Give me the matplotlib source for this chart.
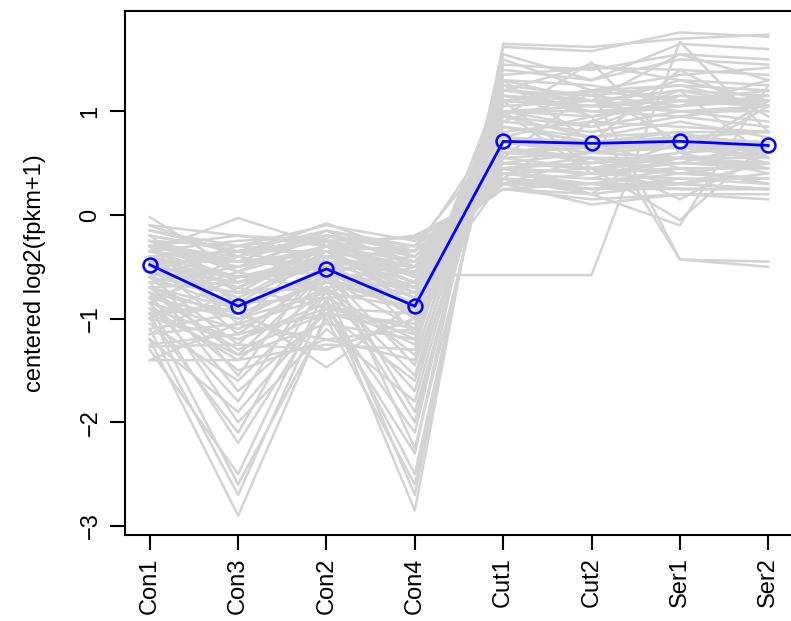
import numpy as np
import matplotlib as mp
mp.use('Agg')
import matplotlib.pyplot as plt

plt.rcParams['font.family'] = ['Liberation Sans', 'DejaVu Sans']

samples = ['Con1', 'Con3', 'Con2', 'Con4', 'Cut1', 'Cut2', 'Ser1', 'Ser2']

# one row per gene, centered log2(fpkm+1)
genes = [
    [-1.20, -2.90, -0.95, -2.30, 1.62, 1.58, 1.76, 1.72],
    [-1.10, -2.70, -0.80, -2.85, 1.65, 1.62, 1.70, 1.74],
    [-0.95, -2.60, -1.00, -2.60, 1.45, 1.40, 1.55, 1.50],
    [-1.30, -2.50, -0.70, -2.70, 1.55, 1.30, 1.65, 1.60],
    [-0.90, -2.20, -0.85, -2.50, 1.35, 1.42, 1.40, 1.35],
    [-1.00, -2.10, -0.60, -2.00, 1.30, 1.25, 1.10, 1.20],
    [-0.75, -2.00, -1.10, -1.80, 1.20, 1.45, 1.30, 1.25],
    [-1.20, -1.90, -0.90, -2.10, 1.50, 1.20, 1.35, 1.42],
    [-0.85, -1.80, -0.50, -1.90, 1.10, 1.20, 1.25, 1.05],
    [-0.65, -1.70, -0.95, -1.60, 1.00, 1.05, 1.30, 1.10],
    [-1.05, -1.60, -0.75, -1.70, 1.25, 0.95, 1.05, 1.30],
    [-0.55, -1.55, -0.40, -2.25, 1.15, 1.00, 1.05, 1.15],
    [-1.40, -1.40, -1.25, -1.30, 1.40, 1.30, 1.50, 1.45],
    [-0.80, -1.50, -1.20, -1.40, 1.30, 1.10, 1.55, 1.30],
    [-0.70, -1.35, -0.55, -1.45, 1.00, 0.85, 1.15, 1.05],
    [-0.60, -0.90, -0.50, -0.85, 0.75, 0.70, 0.80, 0.60],
    [-0.40, -0.70, -0.30, -0.60, 0.55, 0.45, 0.60, 0.40],
    [-0.30, -0.50, -0.20, -0.45, 0.40, 0.35, 0.30, 0.40],
    [-0.25, -0.45, -0.15, -0.30, 0.35, 0.30, 0.25, 0.25],
    [-0.50, -0.80, -0.45, -0.75, 0.60, 0.65, 0.70, 0.55],
    [-0.70, -1.00, -0.60, -1.10, 0.90, 0.80, 0.95, 0.85],
    [-0.35, -0.60, -0.40, -0.55, 0.45, 0.50, 0.55, 0.50],
    [-0.90, -1.20, -0.85, -1.25, 1.10, 1.05, 1.00, 1.05],
    [-0.20, -0.35, -0.25, -0.40, 0.30, 0.25, 0.35, 0.30],
    [-0.45, -1.15, -0.55, -0.95, 0.85, 0.70, 0.75, 0.80],
    [-0.65, -0.75, -0.70, -0.65, 0.70, 0.60, 0.75, 0.70],
    [-0.30, -0.85, -0.35, -0.70, 0.50, 0.60, 0.55, 0.55],
    [-0.55, -0.65, -0.30, -0.90, 0.65, 0.55, 0.50, 0.70],
    [-0.80, -0.55, -0.75, -0.50, 0.60, 0.70, 0.65, 0.65],
    [-0.15, -0.30, -0.10, -0.25, 0.30, 0.10, 0.20, 0.20],
    [-0.35, -0.25, -0.20, -0.35, 0.35, 0.25, 0.30, 0.25],
    [-0.60, -1.25, -0.45, -1.00, 0.95, 0.75, 0.80, 0.80],
    [-0.25, -0.55, -0.15, -0.50, 0.40, 0.30, 0.45, 0.30],
    [-0.40, -0.35, -0.35, -0.30, 0.30, 0.40, 0.35, 0.35],
    [-0.75, -0.95, -0.65, -0.90, 0.85, 0.75, 0.90, 0.75],
    [-0.50, -0.60, -0.55, -0.70, 0.55, 0.60, 0.65, 0.55],
    [-0.85, -0.40, -0.60, -0.55, 0.65, 0.50, 0.60, 0.65],
    [-0.20, -0.75, -0.30, -0.65, 0.45, 0.55, 0.40, 0.50],
    [-0.45, -0.45, -0.50, -0.40, 0.45, 0.40, 0.50, 0.45],
    [-0.95, -0.85, -0.80, -0.75, 0.80, 0.90, 0.85, 0.80],
    [-0.30, -1.05, -0.25, -1.15, 0.70, 0.65, 0.75, 0.65],
    [-0.65, -0.50, -0.35, -0.80, 0.60, 0.55, 0.55, 0.60],
    [-0.55, -0.30, -0.40, -0.35, 0.40, 0.45, 0.40, 0.35],
    [-0.10, -0.40, -0.20, -0.35, 0.25, 0.30, 0.25, 0.25],
    [-0.70, -0.65, -0.45, -1.00, 0.75, 0.65, 0.70, 0.70],
    [-0.40, -0.95, -0.65, -0.85, 0.70, 0.70, 0.75, 0.70],
    [-1.15, -0.70, -0.90, -0.95, 0.95, 0.85, 1.00, 0.90],
    [-0.30, -0.20, -0.30, -0.20, 0.25, 0.20, 0.30, 0.25],
    [-0.85, -1.10, -0.70, -1.35, 1.00, 1.00, 0.95, 1.05],
    [-0.50, -0.40, -0.25, -0.60, 0.45, 0.40, 0.45, 0.45],
    [-0.60, -0.35, -0.55, -0.45, 0.50, 0.45, 0.55, 0.45],
    [-0.25, -0.65, -0.50, -0.55, 0.50, 0.45, 0.50, 0.50],
    [-0.75, -1.30, -0.95, -1.15, 1.05, 1.10, 1.00, 1.00],
    [-0.35, -0.45, -0.45, -0.50, 0.45, 0.40, 0.45, 0.45],
    [-1.00, -0.60, -0.40, -0.70, 0.70, 0.65, 0.65, 0.70],
    [-1.15, -1.05, -1.20, -1.10, 1.15, 1.10, 1.20, 1.05],
    [-0.95, -1.35, -1.05, -1.20, 1.25, 1.15, 1.05, 1.10],
    [-1.25, -1.15, -0.95, -1.05, 1.10, 1.20, 1.10, 1.10],
    [-1.10, -0.95, -1.30, -1.00, 1.15, 1.05, 1.10, 1.05],
    [-0.90, -1.40, -0.70, -1.55, 1.20, 1.10, 1.20, 1.15],
    [-0.15, -0.35, -0.23, -0.58, -0.58, -0.58, 1.67, 0.80],
    [-0.20, -0.35, -0.15, -0.35, 0.90, 1.20, -0.43, -0.45],
    [-0.25, -0.30, -0.20, -0.30, 0.75, 0.95, -0.43, -0.50],
    [-1.00, -1.20, -0.90, -1.10, 0.95, 1.47, 0.60, 1.10],
    [-0.80, -1.00, -0.75, -0.90, 1.30, 0.70, 1.40, 0.95],
    [-0.55, -0.85, -0.60, -0.95, 0.55, 1.20, 0.70, 0.50],
    [-0.45, -0.60, -0.50, -0.80, 1.10, 0.45, 0.30, 0.50],
    [-0.35, -0.50, -0.30, -0.45, 0.30, 0.55, 0.15, 0.60],
    [-0.70, -0.90, -0.55, -0.85, 0.35, 0.90, 1.20, 0.55],
    [-0.60, -0.75, -0.65, -0.70, 1.00, 0.40, 0.70, 0.60],
    [-0.50, -0.65, -0.45, -0.55, 0.35, 0.20, -0.10, 1.25],
    [-0.30, -0.45, -0.35, -0.50, 0.50, 0.45, -0.05, 0.70],
    [-0.40, -0.60, -0.45, -0.55, 0.45, 0.20, 0.80, 0.55],
    [-0.45, -0.80, -0.35, -0.75, 0.40, 0.35, 0.55, 1.05],
    [-0.55, -0.70, -0.40, -0.65, 0.85, 0.70, 0.45, 0.30],
    [-0.02, -0.55, -0.30, -0.50, 0.35, 0.30, 0.40, 0.35],
    [-0.35, -0.03, -0.30, -0.35, 0.30, 0.25, 0.25, 0.25],
    [-0.30, -0.40, -0.08, -0.40, 0.30, 0.30, 0.30, 0.25],
    [-0.10, -0.20, -0.25, -0.22, 0.25, 0.15, 0.20, 0.15],
    [-0.95, -0.90, -1.47, -0.85, 1.00, 0.95, 1.10, 1.05],
    [-1.40, -1.05, -0.80, -1.20, 1.10, 1.05, 1.15, 1.10],
    [-1.27, -1.25, -1.30, -1.00, 1.20, 1.15, 1.25, 1.20],
]

# mean profile (blue)
mean_profile = [-0.48, -0.88, -0.52, -0.88, 0.71, 0.69, 0.71, 0.67]

x = np.arange(1, len(samples) + 1)

fig = plt.figure(figsize=(7.91, 6.21), dpi=100)
ax = fig.add_axes([125/791., 86/621., 668/791., 524/621.])

for g in genes:
    ax.plot(x, g, color='lightgray', lw=1.8, zorder=1)

ax.plot(x, mean_profile, color='blue', lw=2.0, marker='o', ms=10,
        mfc='none', mec='blue', mew=1.8, zorder=3)

ax.set_xlim(0.72, 8.28)
ax.set_ylim(-3.087, 1.967)

ax.set_xticks(x)
ax.set_xticklabels(samples, rotation=90, fontsize=17)
ax.set_yticks([-3, -2, -1, 0, 1])
ax.set_yticklabels(['\u22123', '\u22122', '\u22121', '0', '1'], rotation=90,
                   va='center', fontsize=17)

ax.tick_params(axis='both', length=11, width=1.5, color='black')
ax.tick_params(axis='x', pad=5)
ax.tick_params(axis='y', pad=6)
for s in ax.spines.values():
    s.set_linewidth(1.5)

ax.set_ylabel('centered log2(fpkm+1)', fontsize=17)
ax.yaxis.set_label_coords(-0.118, 0.5)

plt.savefig('out.png', dpi=100)
